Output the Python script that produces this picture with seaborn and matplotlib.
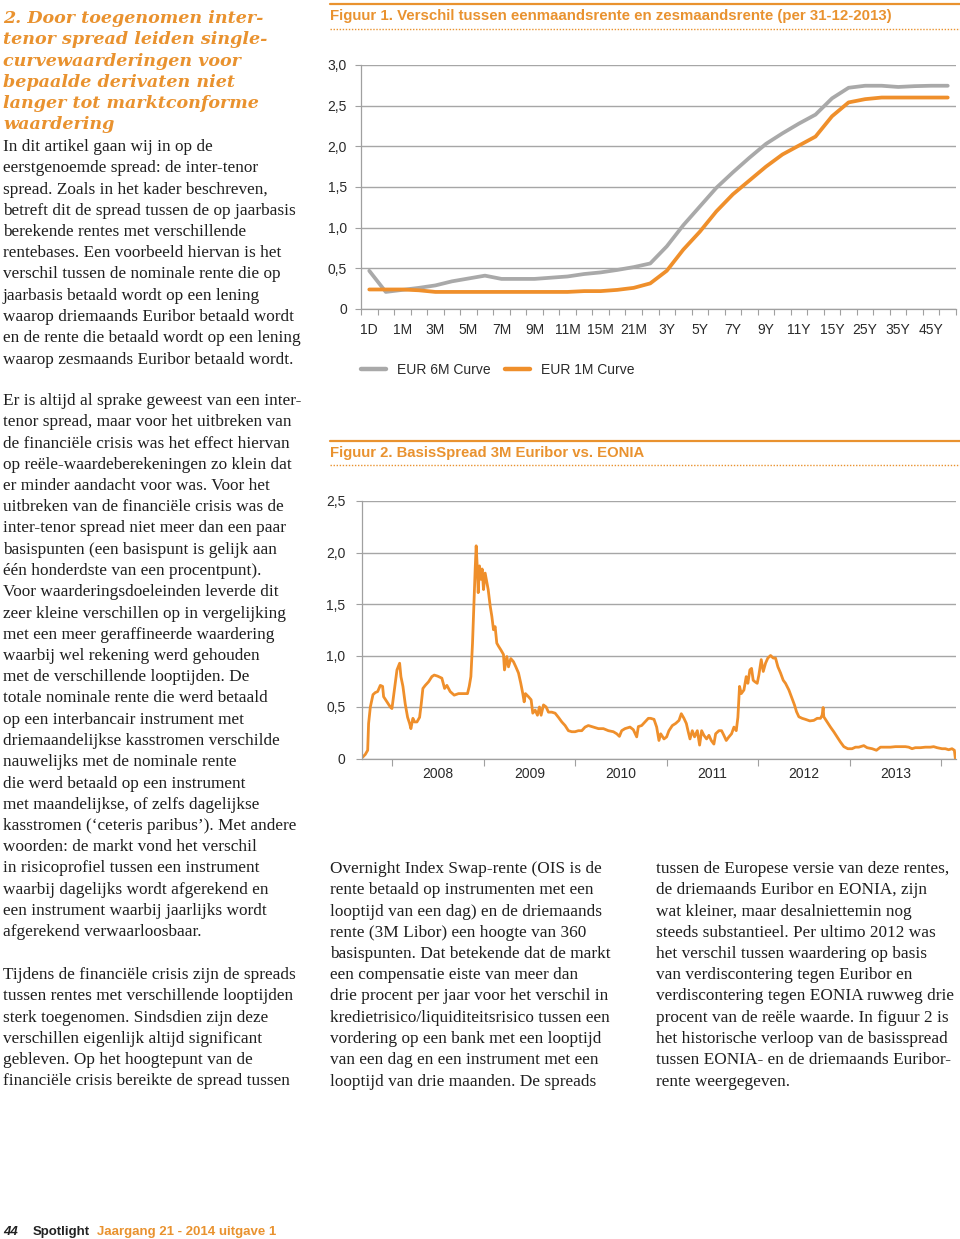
import numpy as np
import pandas as pd
import matplotlib
matplotlib.use("Agg")
import matplotlib.pyplot as plt
import seaborn as sns
from matplotlib.lines import Line2D

sns.set_theme(style="white")
plt.rcParams['font.family'] = ['Liberation Sans', 'DejaVu Sans']

# ---------------- data ----------------
tenors = ["1D", "1W", "1M", "2M", "3M", "4M", "5M", "6M", "7M", "8M", "9M", "10M",
          "11M", "12M", "15M", "18M", "21M", "2Y", "3Y", "4Y", "5Y", "6Y", "7Y", "8Y",
          "9Y", "10Y", "11Y", "12Y", "15Y", "20Y", "25Y", "30Y", "35Y", "40Y", "45Y", "50Y"]
eur6m = [0.47, 0.21, 0.235, 0.26, 0.29, 0.34, 0.375, 0.41, 0.37, 0.37, 0.37, 0.385,
         0.40, 0.43, 0.45, 0.48, 0.515, 0.56, 0.77, 1.03, 1.26, 1.49, 1.68, 1.86,
         2.03, 2.16, 2.28, 2.39, 2.59, 2.72, 2.745, 2.745, 2.73, 2.74, 2.745, 2.745]
eur1m = [0.24, 0.24, 0.24, 0.23, 0.21, 0.21, 0.21, 0.21, 0.21, 0.21, 0.21, 0.21,
         0.21, 0.22, 0.22, 0.235, 0.26, 0.315, 0.47, 0.73, 0.95, 1.20, 1.41, 1.58,
         1.75, 1.90, 2.01, 2.12, 2.37, 2.54, 2.58, 2.60, 2.60, 2.60, 2.60, 2.60]
fig1_series = ["EUR 6M Curve", "EUR 1M Curve"]
fig1_yticks = [0, 0.5, 1.0, 1.5, 2.0, 2.5, 3.0]
fig1_ylabels = ["0", "0,5", "1,0", "1,5", "2,0", "2,5", "3,0"]

spread_dates = [
    2007.680, 2007.709, 2007.735, 2007.745, 2007.764, 2007.793, 2007.818, 2007.844,
    2007.873, 2007.898, 2007.909, 2007.945, 2007.982, 2008.000, 2008.036, 2008.055,
    2008.084, 2008.098, 2008.120, 2008.145, 2008.171, 2008.193, 2008.207, 2008.229,
    2008.247, 2008.273, 2008.302, 2008.320, 2008.338, 2008.364, 2008.400, 2008.436,
    2008.462, 2008.498, 2008.545, 2008.575, 2008.600, 2008.636, 2008.680, 2008.727,
    2008.782, 2008.825, 2008.844, 2008.862, 2008.880, 2008.898, 2008.909, 2008.920,
    2008.931, 2008.942, 2008.956, 2008.971, 2008.985, 2009.000, 2009.018, 2009.036,
    2009.051, 2009.073, 2009.091, 2009.109, 2009.127, 2009.145, 2009.164, 2009.189,
    2009.218, 2009.229, 2009.255, 2009.273, 2009.298, 2009.327, 2009.353, 2009.382,
    2009.407, 2009.429, 2009.444, 2009.458, 2009.491, 2009.520, 2009.538, 2009.564,
    2009.589, 2009.611, 2009.629, 2009.655, 2009.684, 2009.709, 2009.745, 2009.782,
    2009.818, 2009.855, 2009.891, 2009.927, 2009.964, 2010.000, 2010.036, 2010.073,
    2010.109, 2010.145, 2010.200, 2010.255, 2010.309, 2010.364, 2010.418, 2010.455,
    2010.484, 2010.509, 2010.545, 2010.600, 2010.636, 2010.673, 2010.691, 2010.727,
    2010.764, 2010.800, 2010.825, 2010.862, 2010.891, 2010.916, 2010.935, 2010.971,
    2011.000, 2011.025, 2011.062, 2011.098, 2011.135, 2011.160, 2011.189, 2011.215,
    2011.233, 2011.255, 2011.280, 2011.305, 2011.335, 2011.360, 2011.382, 2011.407,
    2011.436, 2011.462, 2011.487, 2011.516, 2011.535, 2011.571, 2011.600, 2011.625,
    2011.651, 2011.680, 2011.709, 2011.735, 2011.760, 2011.778, 2011.796, 2011.815,
    2011.844, 2011.869, 2011.887, 2011.909, 2011.927, 2011.945, 2011.964, 2011.989,
    2012.007, 2012.033, 2012.055, 2012.080, 2012.105, 2012.135, 2012.164, 2012.189,
    2012.215, 2012.244, 2012.273, 2012.298, 2012.335, 2012.371, 2012.396, 2012.418,
    2012.444, 2012.480, 2012.516, 2012.564, 2012.607, 2012.644, 2012.680, 2012.698,
    2012.709, 2012.716, 2012.753, 2012.789, 2012.825, 2012.862, 2012.898, 2012.935,
    2012.978, 2013.025, 2013.062, 2013.098, 2013.153, 2013.189, 2013.244, 2013.291,
    2013.335, 2013.389, 2013.444, 2013.498, 2013.553, 2013.607, 2013.644, 2013.680,
    2013.716, 2013.771, 2013.825, 2013.880, 2013.916, 2013.953, 2014.007, 2014.044,
    2014.080, 2014.116, 2014.142, 2014.153]
spread_values = [
    0.013, 0.04, 0.08, 0.34, 0.50, 0.62, 0.64, 0.65,
    0.71, 0.70, 0.60, 0.55, 0.50, 0.485, 0.73, 0.86,
    0.925, 0.795, 0.70, 0.53, 0.40, 0.34, 0.29, 0.39,
    0.355, 0.355, 0.40, 0.53, 0.68, 0.71, 0.745, 0.795,
    0.81, 0.80, 0.78, 0.68, 0.71, 0.65, 0.615, 0.63,
    0.63, 0.63, 0.70, 0.795, 1.12, 1.58, 1.84, 2.065,
    1.87, 1.61, 1.87, 1.74, 1.84, 1.64, 1.80, 1.71,
    1.64, 1.48, 1.38, 1.25, 1.28, 1.12, 1.09, 1.055,
    1.01, 0.86, 0.99, 0.89, 0.97, 0.94, 0.89, 0.83,
    0.73, 0.63, 0.55, 0.63, 0.60, 0.57, 0.44, 0.47,
    0.42, 0.50, 0.42, 0.52, 0.50, 0.45, 0.45, 0.44,
    0.40, 0.355, 0.32, 0.27, 0.26, 0.26, 0.27, 0.27,
    0.305, 0.32, 0.305, 0.29, 0.29, 0.27, 0.26, 0.24,
    0.215, 0.27, 0.29, 0.305, 0.28, 0.21, 0.31, 0.32,
    0.355, 0.39, 0.39, 0.38, 0.305, 0.175, 0.24, 0.19,
    0.21, 0.27, 0.32, 0.34, 0.37, 0.435, 0.39, 0.34,
    0.27, 0.19, 0.27, 0.21, 0.27, 0.13, 0.27, 0.225,
    0.19, 0.225, 0.175, 0.14, 0.24, 0.27, 0.27, 0.225,
    0.175, 0.21, 0.24, 0.305, 0.27, 0.40, 0.70, 0.63,
    0.665, 0.795, 0.73, 0.86, 0.875, 0.76, 0.745, 0.73,
    0.81, 0.96, 0.845, 0.925, 0.975, 1.0, 0.975, 0.975,
    0.89, 0.83, 0.76, 0.73, 0.665, 0.58, 0.52, 0.455,
    0.405, 0.39, 0.38, 0.365, 0.37, 0.39, 0.39, 0.42,
    0.495, 0.405, 0.355, 0.305, 0.26, 0.21, 0.16, 0.115,
    0.095, 0.095, 0.11, 0.11, 0.125, 0.105, 0.095, 0.08,
    0.11, 0.11, 0.11, 0.115, 0.115, 0.115, 0.11, 0.095,
    0.105, 0.105, 0.11, 0.11, 0.115, 0.105, 0.095, 0.095,
    0.085, 0.095, 0.08, 0.0]
fig2_years = ["2008", "2009", "2010", "2011", "2012", "2013"]
fig2_yticks = [0, 0.5, 1.0, 1.5, 2.0, 2.5]
fig2_ylabels = ["0", "0,5", "1,0", "1,5", "2,0", "2,5"]

fig1_title = "Figuur 1. Verschil tussen eenmaandsrente en zesmaandsrente (per 31-12-2013)"
fig2_title = "Figuur 2. BasisSpread 3M Euribor vs. EONIA"

heading = ["2. Door toegenomen inter-", "tenor spread leiden single-",
           "curvewaarderingen voor", "bepaalde derivaten niet",
           "langer tot marktconforme", "waardering"]
para1 = ["In dit artikel gaan wij in op de",
         "eerstgenoemde spread: de inter-tenor",
         "spread. Zoals in het kader beschreven,",
         "betreft dit de spread tussen de op jaarbasis",
         "berekende rentes met verschillende",
         "rentebases. Een voorbeeld hiervan is het",
         "verschil tussen de nominale rente die op",
         "jaarbasis betaald wordt op een lening",
         "waarop driemaands Euribor betaald wordt",
         "en de rente die betaald wordt op een lening",
         "waarop zesmaands Euribor betaald wordt."]
para2 = ["Er is altijd al sprake geweest van een inter-",
         "tenor spread, maar voor het uitbreken van",
         "de financiële crisis was het effect hiervan",
         "op reële-waardeberekeningen zo klein dat",
         "er minder aandacht voor was. Voor het",
         "uitbreken van de financiële crisis was de",
         "inter-tenor spread niet meer dan een paar",
         "basispunten (een basispunt is gelijk aan",
         "één honderdste van een procentpunt).",
         "Voor waarderingsdoeleinden leverde dit",
         "zeer kleine verschillen op in vergelijking",
         "met een meer geraffineerde waardering",
         "waarbij wel rekening werd gehouden",
         "met de verschillende looptijden. De",
         "totale nominale rente die werd betaald",
         "op een interbancair instrument met",
         "driemaandelijkse kasstromen verschilde",
         "nauwelijks met de nominale rente",
         "die werd betaald op een instrument",
         "met maandelijkse, of zelfs dagelijkse",
         "kasstromen (‘ceteris paribus’). Met andere",
         "woorden: de markt vond het verschil",
         "in risicoprofiel tussen een instrument",
         "waarbij dagelijks wordt afgerekend en",
         "een instrument waarbij jaarlijks wordt",
         "afgerekend verwaarloosbaar."]
para3 = ["Tijdens de financiële crisis zijn de spreads",
         "tussen rentes met verschillende looptijden",
         "sterk toegenomen. Sindsdien zijn deze",
         "verschillen eigenlijk altijd significant",
         "gebleven. Op het hoogtepunt van de",
         "financiële crisis bereikte de spread tussen"]
col2 = ["Overnight Index Swap-rente (OIS is de",
        "rente betaald op instrumenten met een",
        "looptijd van een dag) en de driemaands",
        "rente (3M Libor) een hoogte van 360",
        "basispunten. Dat betekende dat de markt",
        "een compensatie eiste van meer dan",
        "drie procent per jaar voor het verschil in",
        "kredietrisico/liquiditeitsrisico tussen een",
        "vordering op een bank met een looptijd",
        "van een dag en een instrument met een",
        "looptijd van drie maanden. De spreads"]
col3 = ["tussen de Europese versie van deze rentes,",
        "de driemaands Euribor en EONIA, zijn",
        "wat kleiner, maar desalniettemin nog",
        "steeds substantieel. Per ultimo 2012 was",
        "het verschil tussen waardering op basis",
        "van verdiscontering tegen Euribor en",
        "verdiscontering tegen EONIA ruwweg drie",
        "procent van de reële waarde. In figuur 2 is",
        "het historische verloop van de basisspread",
        "tussen EONIA- en de driemaands Euribor-",
        "rente weergegeven."]

# ---------------- style ----------------
ORANGE = "#EF8F2B"
TITLE_OR = "#E9922F"
GRAY_LINE = "#A9A9A9"
GRID = "#A6A6A6"
AXIS = "#A0A0A0"
TXT = "#2A2A2A"
BODY = "#1F1F1F"
SERIF = ['Liberation Serif', 'DejaVu Serif']
HEAD = ['DejaVu Serif']
SANS = ['Liberation Sans', 'DejaVu Sans']

W, H = 960, 1239
fig = plt.figure(figsize=(W / 100, H / 100), dpi=100)
fig.patch.set_facecolor("white")
renderer = fig.canvas.get_renderer()


def fx(px):
    return px / W


def fy(py):
    return 1 - py / H


def rect(l, r, t, b):
    return [l / W, 1 - b / H, (r - l) / W, (b - t) / H]


def fit_size(sample, family, target_px, base=10, **kw):
    t = fig.text(0, 0, sample, fontsize=base, family=family, **kw)
    w = t.get_window_extent(renderer=renderer).width
    t.remove()
    return base * target_px / w


body_fs = fit_size("waarop zesmaands Euribor betaald wordt.", SERIF, 290)
head_fs = fit_size("langer tot marktconforme", HEAD, 255, weight='bold', style='italic')
t1_fs = fit_size(fig1_title, SANS, 563, weight='bold')
t2_fs = fit_size(fig2_title, SANS, 315, weight='bold')

LS = 21.25


def block(lines, x, y0, fs, color, off=5, **kw):
    for i, line in enumerate(lines):
        fig.text(fx(x), fy(y0 + i * LS + off), line, fontsize=fs, color=color,
                 va='baseline', ha='left', **kw)


block(heading, 3, 17, head_fs, TITLE_OR, off=6, family=HEAD, weight='bold', style='italic')
block(para1, 3, 146, body_fs, BODY, family=SERIF)
block(para2, 3, 400, body_fs, BODY, family=SERIF)
block(para3, 3, 974, body_fs, BODY, family=SERIF)
block(col2, 330, 868, body_fs, BODY, family=SERIF)
block(col3, 656, 868, body_fs, BODY, family=SERIF)

# footer
fig.text(fx(3), fy(1235), "44", fontsize=9.5, weight='bold', style='italic',
         color="#222222", family=SANS, va='baseline')
fig.text(fx(33), fy(1235), "Spotlight", fontsize=9.5, weight='bold',
         color="#222222", family=SANS, va='baseline')
fig.text(fx(97), fy(1235), "Jaargang 21 - 2014 uitgave 1", fontsize=9.5, weight='bold',
         color=TITLE_OR, family=SANS, va='baseline')

# figure title bars
for top, title, fs, dot in [(4, fig1_title, t1_fs, 28.5), (441, fig2_title, t2_fs, 465)]:
    fig.add_artist(Line2D([fx(330), fx(960)], [fy(top), fy(top)], transform=fig.transFigure,
                          color=TITLE_OR, lw=1.6))
    fig.add_artist(Line2D([fx(330), fx(960)], [fy(dot), fy(dot)], transform=fig.transFigure,
                          color=TITLE_OR, lw=1.0, linestyle=(0, (1, 1.2))))
    fig.text(fx(330), fy(top + 16), title, fontsize=fs, weight='bold', color=TITLE_OR,
             family=SANS, va='baseline')


def style_axes(ax):
    for s in ['top', 'right']:
        ax.spines[s].set_visible(False)
    for s in ['left', 'bottom']:
        ax.spines[s].set_color(AXIS)
        ax.spines[s].set_linewidth(0.9)
    ax.set_facecolor("white")
    ax.grid(axis='y', color=GRID, linewidth=1.0)
    ax.grid(axis='x', visible=False)
    ax.set_axisbelow(True)
    ax.set_xlabel("")
    ax.set_ylabel("")


# ---------------- Figure 1 ----------------
ax1 = fig.add_axes(rect(361, 956, 65, 309))
pos = np.arange(len(tenors))
df1 = pd.DataFrame({
    "pos": np.concatenate([pos, pos]),
    "rate": eur6m + eur1m,
    "curve": [fig1_series[0]] * len(tenors) + [fig1_series[1]] * len(tenors),
})
sns.lineplot(data=df1, x="pos", y="rate", hue="curve", hue_order=fig1_series,
             palette={fig1_series[0]: GRAY_LINE, fig1_series[1]: ORANGE},
             linewidth=2.7, legend=False, ax=ax1)
ax1.set_xlim(-0.5, len(tenors) - 0.5)
ax1.set_ylim(0, 3.0)
style_axes(ax1)
ax1.set_yticks(fig1_yticks)
ax1.set_yticklabels(fig1_ylabels)
ax1.set_xticks(pos[::2])
ax1.set_xticklabels(tenors[::2])
ax1.set_xticks(np.arange(-0.5, len(tenors)), minor=True)
ax1.tick_params(axis='x', which='major', length=0, pad=10, labelsize=10, labelcolor=TXT)
ax1.tick_params(axis='x', which='minor', length=4, width=0.8, color=AXIS, direction='out', bottom=True)
ax1.tick_params(axis='y', length=4, width=0.8, color=AXIS, direction='out', left=True,
                pad=6, labelsize=10, labelcolor=TXT)
for lab in ax1.get_xticklabels() + ax1.get_yticklabels():
    lab.set_family(SANS)

handles = [Line2D([], [], color=GRAY_LINE, lw=3.2, label=fig1_series[0]),
           Line2D([], [], color=ORANGE, lw=3.2, label=fig1_series[1])]
leg = fig.legend(handles=handles, loc='center left', bbox_to_anchor=(fx(361), fy(370)),
                 ncol=2, frameon=False, handlelength=1.8, handletextpad=0.8,
                 columnspacing=1.0, borderpad=0, borderaxespad=0,
                 prop={'family': SANS, 'size': 10})
for t in leg.get_texts():
    t.set_color(TXT)

# ---------------- Figure 2 ----------------
ax2 = fig.add_axes(rect(362, 956, 501, 758.5))
sns.lineplot(x=spread_dates, y=spread_values, color=ORANGE, linewidth=2.0, ax=ax2)
ax2.set_xlim(2007.673, 2014.16)
ax2.set_ylim(0, 2.5)
style_axes(ax2)
ax2.set_yticks(fig2_yticks)
ax2.set_yticklabels(fig2_ylabels)
yrs = [int(y) for y in fig2_years]
ax2.set_xticks(np.array(yrs) + 0.5)
ax2.set_xticklabels(fig2_years)
ax2.set_xticks(np.arange(yrs[0], yrs[-1] + 2), minor=True)
ax2.tick_params(axis='x', which='major', length=0, pad=6, labelsize=10, labelcolor=TXT)
ax2.tick_params(axis='x', which='minor', length=5, width=0.8, color=AXIS, direction='out', bottom=True)
ax2.tick_params(axis='y', length=4, width=0.8, color=AXIS, direction='out', left=True,
                pad=8, labelsize=10, labelcolor=TXT)
for lab in ax2.get_xticklabels() + ax2.get_yticklabels():
    lab.set_family(SANS)

fig.savefig("out.png", dpi=100, facecolor="white")
